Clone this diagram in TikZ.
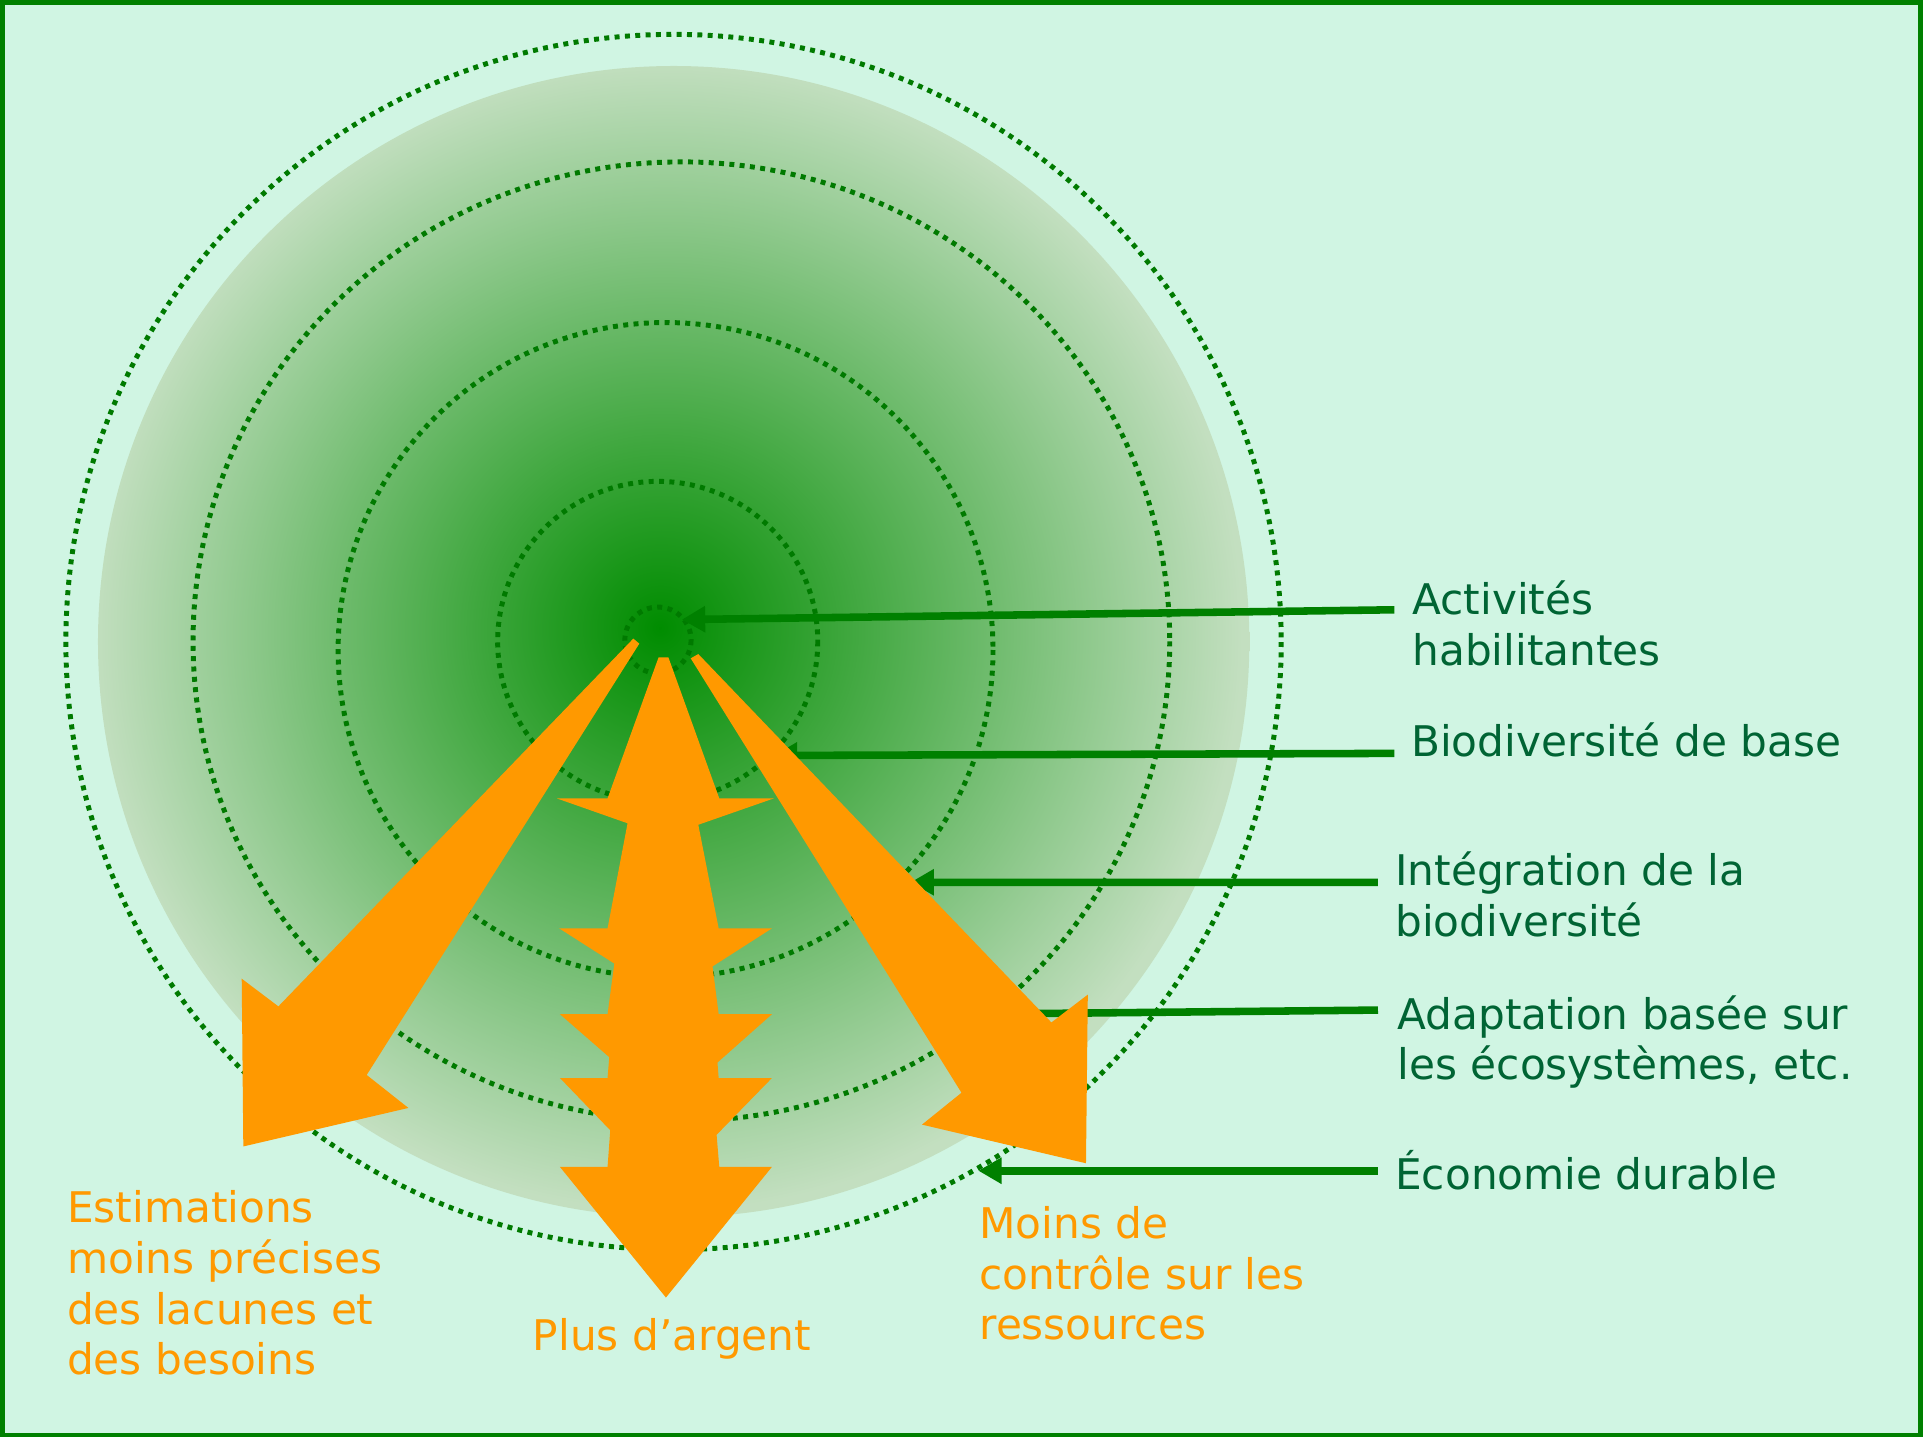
\documentclass[tikz,border=0pt]{standalone}
\usepackage{fontspec}
\setmainfont{DejaVu Sans}
\usetikzlibrary{arrows.meta}
\definecolor{bgmint}{RGB}{208,245,227}
\definecolor{frameg}{RGB}{0,128,0}
\definecolor{dotg}{RGB}{0,122,0}
\definecolor{textg}{RGB}{0,100,52}
\definecolor{orng}{RGB}{255,153,0}
\pgfdeclareradialshading{discshade}{\pgfpoint{-0.6bp}{0.6bp}}{rgb(0bp)=(0,0.55,0); rgb(25bp)=(0.765,0.875,0.753); rgb(50bp)=(0.765,0.875,0.753)}
\tikzset{
  dotcirc/.style={draw=dotg, line width=1.15pt, dash pattern=on 1.15pt off 1.25pt},
  conn/.style={draw=frameg, line width=1.75pt, -{Triangle[length=5.4pt,width=5.8pt]}},
  glabel/.style={text=textg, anchor=base west, align=left, inner sep=0pt,
    font=\fontsize{9.79pt}{11.78pt}\selectfont},
  olabel/.style={glabel, text=orng},
  orangearrow/.style={fill=orng},
}
\begin{document}
\begin{tikzpicture}[x=0.01cm, y=-0.01cm]
\useasboundingbox (0,0) rectangle (1568,1172);
\fill[bgmint] (0,0) rectangle (1568,1172);
% shaded disc
\shade[shading=discshade] (549.3,523.2) circle[radius=469.4];
% dotted circles
\draw[dotcirc] (536.5,522) circle[radius=27];
\draw[dotcirc] (536.3,523) circle[radius=130.5];
\draw[dotcirc] (542.7,530) circle[radius=267];
\draw[dotcirc] (555.6,523) ellipse[x radius=398.2, y radius=391];
\draw[dotcirc] (549.2,523.5) circle[radius=495.5];
% connector end points
\coordinate (s1) at (1137,497.2);  \coordinate (t1) at (556,505.2);
\coordinate (s2) at (1137,614.3);  \coordinate (t2) at (631,616);
\coordinate (s3) at (1123.6,719.5); \coordinate (t3) at (742.5,719.4);
\coordinate (s4) at (1123.6,823.6); \coordinate (t4) at (808,826.8);
\coordinate (s5) at (1123.6,954.6); \coordinate (t5) at (797.7,954.6);
\draw[conn] (s1) -- (t1);
\draw[conn] (s2) -- (t2);
\draw[conn] (s3) -- (t3);
\draw[conn] (s4) -- (t4);
\draw[conn] (s5) -- (t5);
% orange arrows
\fill[orangearrow] (516.4,520.7) -- (521.3,524.8) -- (299,876.5) -- (333,903.4)
  -- (198.4,934.8) -- (197.1,798) -- (227,820.6) -- cycle;
\fill[orangearrow] (563.2,536.8) -- (569.4,533.3) -- (857.3,833.7) -- (887,811)
  -- (885.5,948.5) -- (751.8,917) -- (784,891) -- cycle;
\fill[orangearrow] (537,536) -- (545,536)
  -- (586.5,651) -- (631,651) -- (569.4,672.5)
  -- (586,757) -- (629.4,757) -- (581,788)
  -- (586,827) -- (629.4,827) -- (585,866.4)
  -- (586,879) -- (629.4,879) -- (584.3,925.3)
  -- (586.5,951.5) -- (629.4,951.5) -- (543,1058)
  -- (456.6,951.5) -- (495.4,951.5) -- (497.6,921.6)
  -- (456.6,879) -- (495.4,879) -- (496.8,862)
  -- (456.6,827) -- (495.4,827) -- (500.9,785.7)
  -- (456,757) -- (495.4,757) -- (511.7,671.3)
  -- (454,651) -- (495.4,651) -- cycle;
% labels (multi-line nodes: base = last line)
\node[glabel] (la) at (1151,542.7) {Activités\\habilitantes};
\node[glabel] (lb) at (1150,617) {Biodiversité de base};
\node[glabel] (lc) at (1137,763.7) {Intégration de la\\biodiversité};
\node[glabel] (ld) at (1139,880.6) {Adaptation basée sur\\les écosystèmes, etc.};
\node[glabel] (le) at (1137,969.8) {Économie durable};
\node[olabel] (lf) at (54,1121) {Estimations\\moins précises\\des lacunes et\\des besoins};
\node[olabel, anchor=base] (lg) at (548,1100.8) {Plus d’argent};
\node[olabel] (lh) at (798,1092.6) {Moins de\\contrôle sur les\\ressources};
% frame
\draw[frameg, line width=1.1pt] (1.9,1.9) rectangle (1566.1,1170.1);
\end{tikzpicture}
\end{document}
